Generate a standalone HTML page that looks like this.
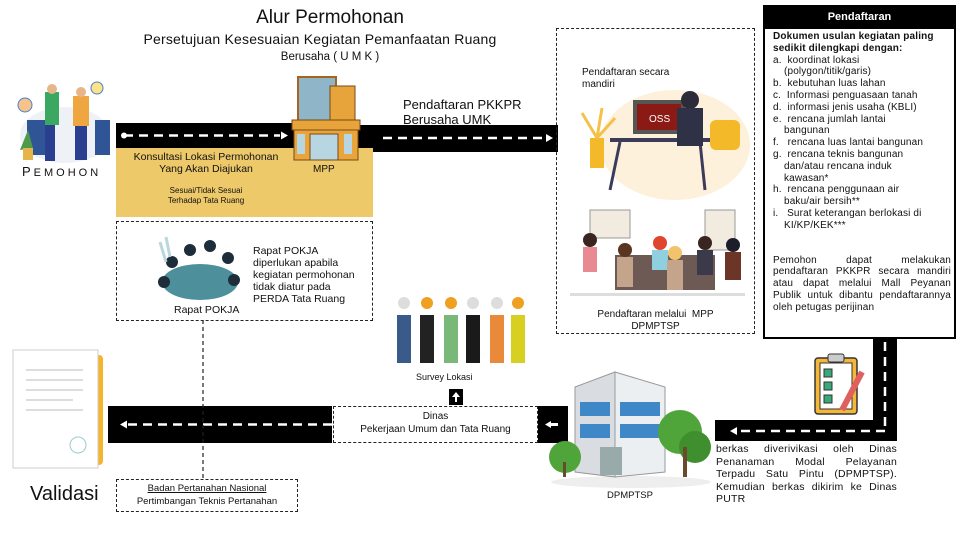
<!DOCTYPE html>
<html><head><meta charset="utf-8"><style>
*{margin:0;padding:0;box-sizing:border-box}
body{width:960px;height:540px;overflow:hidden;background:#fff;font-family:"Liberation Sans",sans-serif;color:#111;position:relative}
.a{position:absolute}
.dash{border:1.3px dashed #222}
.li{padding-left:11px;text-indent:-11px}
</style></head><body>

<div class="a" style="left:230px;top:7px;width:200px;text-align:center;font-size:19px">Alur Permohonan</div>
<div class="a" style="left:120px;top:31px;width:400px;text-align:center;font-size:14px;letter-spacing:0.2px">Persetujuan Kesesuaian Kegiatan Pemanfaatan Ruang</div>
<div class="a" style="left:230px;top:51px;width:200px;text-align:center;font-size:11.5px">Berusaha ( U M K )</div>

<svg class="a" style="left:15px;top:80px" width="100" height="85">
<ellipse cx="50" cy="55" rx="45" ry="28" fill="#eef1f6"/>
<rect x="12" y="40" width="18" height="35" fill="#2f5597"/>
<rect x="80" y="40" width="15" height="35" fill="#2f5597"/>
<rect x="30" y="12" width="14" height="33" fill="#3aa861"/>
<rect x="30" y="45" width="10" height="36" fill="#2a3f8f"/>
<rect x="58" y="16" width="16" height="30" fill="#f0a640"/>
<rect x="60" y="46" width="12" height="34" fill="#2a3f8f"/>
<circle cx="37" cy="9" r="5" fill="#e8b48a"/><circle cx="66" cy="12" r="5" fill="#e8b48a"/>
<circle cx="10" cy="25" r="7" fill="#f6c48a" stroke="#4a7fd0"/><circle cx="82" cy="8" r="6" fill="#fbe38a" stroke="#4a7fd0"/>
<path d="M5 70 l8 -20 l5 18z" fill="#4f9a4a"/><rect x="8" y="68" width="10" height="12" fill="#e6b54a"/>
</svg>
<div class="a" style="left:22px;top:164px;font-size:11px;letter-spacing:3px"><span style="font-size:13px">P</span>EMOHON</div>

<svg class="a" style="left:0;top:0" width="960" height="540">
<rect x="116" y="123" width="190" height="25" fill="#000"/>
<rect x="340" y="125" width="218" height="27" fill="#000"/>
<circle cx="124" cy="135.5" r="3" fill="#fff"/>
<line x1="124" y1="135.5" x2="280" y2="135.5" stroke="#fff" stroke-width="2.5" stroke-dasharray="9,6"/>
<polygon points="281,131.5 288,135.5 281,139.5" fill="#fff"/>
<line x1="383" y1="138" x2="545" y2="138" stroke="#fff" stroke-width="2.5" stroke-dasharray="9,6"/>
<polygon points="546,134 553,138 546,142" fill="#fff"/>
<rect x="873" y="338" width="24" height="103" fill="#000"/>
<rect x="715" y="420" width="182" height="21" fill="#000"/>
<line x1="885" y1="342" x2="885" y2="431" stroke="#fff" stroke-width="2.5" stroke-dasharray="9,6"/>
<line x1="885" y1="431" x2="735" y2="431" stroke="#fff" stroke-width="2.5" stroke-dasharray="9,6"/>
<polygon points="730,431 737,427 737,435" fill="#fff"/>
<rect x="108" y="406" width="224" height="37" fill="#000"/>
<rect x="537" y="406" width="31" height="37" fill="#000"/>
<line x1="128" y1="424.5" x2="332" y2="424.5" stroke="#fff" stroke-width="2.5" stroke-dasharray="9,6"/>
<polygon points="120,424.5 127,420.5 127,428.5" fill="#fff"/>
<polygon points="545,424.5 551,421 551,428" fill="#fff"/><rect x="550" y="423" width="8" height="3" fill="#fff"/>
<rect x="449" y="389" width="14" height="16" fill="#000"/>
<polygon points="456,392 460,397 452,397" fill="#fff"/><rect x="455" y="396" width="2" height="6" fill="#fff"/>
<line x1="203" y1="320" x2="203" y2="479" stroke="#222" stroke-width="1.2" stroke-dasharray="4,3"/>
</svg>

<div class="a" style="left:116px;top:148px;width:257px;height:69px;background:#edc96a"></div>
<div class="a" style="left:116px;top:151px;width:180px;text-align:center;font-size:10.5px;line-height:12px">Konsultasi Lokasi Permohonan<br>Yang Akan Diajukan</div>
<div class="a" style="left:116px;top:186px;width:180px;text-align:center;font-size:8px;line-height:10px">Sesuai/Tidak Sesuai<br>Terhadap Tata Ruang</div>

<svg class="a" style="left:290px;top:72px" width="72" height="90">
<rect x="8" y="5" width="38" height="45" fill="#8fb5c8" stroke="#a5651f" stroke-width="2"/>
<rect x="40" y="14" width="25" height="40" fill="#e7a43a" stroke="#7a4a15"/>
<rect x="2" y="48" width="68" height="10" fill="#e7a43a" stroke="#7a4a15"/>
<rect x="4" y="58" width="64" height="30" fill="#e9a53b" stroke="#7a4a15"/>
<rect x="20" y="62" width="28" height="26" fill="#b7d6e2" stroke="#7a4a15"/>
<rect x="7" y="62" width="8" height="20" fill="#b7d6e2"/><rect x="54" y="62" width="8" height="20" fill="#b7d6e2"/>
</svg>
<div class="a" style="left:313px;top:164px;font-size:10px">MPP</div>

<div class="a" style="left:403px;top:97px;font-size:13px;line-height:15px">Pendaftaran PKKPR<br>Berusaha UMK</div>

<div class="a dash" style="left:116px;top:221px;width:257px;height:100px"></div>
<svg class="a" style="left:150px;top:232px" width="95" height="75">
<ellipse cx="50" cy="50" rx="38" ry="18" fill="#4e8f9c"/>
<circle cx="22" cy="30" r="6" fill="#1e2d3a"/><circle cx="40" cy="18" r="6" fill="#1e2d3a"/><circle cx="60" cy="14" r="6" fill="#1e2d3a"/><circle cx="78" cy="26" r="6" fill="#1e2d3a"/><circle cx="84" cy="48" r="6" fill="#1e2d3a"/><circle cx="14" cy="50" r="6" fill="#1e2d3a"/>
<path d="M10 10 l6 20 M16 5 l4 20" stroke="#b9d8de" stroke-width="3"/>
</svg>
<div class="a" style="left:253px;top:245px;font-size:10.5px;line-height:12px">Rapat POKJA<br>diperlukan apabila<br>kegiatan permohonan<br>tidak diatur pada<br>PERDA Tata Ruang</div>
<div class="a" style="left:174px;top:304px;font-size:10.5px">Rapat POKJA</div>

<div class="a dash" style="left:556px;top:28px;width:199px;height:306px"></div>
<div class="a" style="left:582px;top:67px;font-size:10px;line-height:12px">Pendaftaran secara<br>mandiri</div>
<svg class="a" style="left:565px;top:80px" width="185" height="120">
<ellipse cx="110" cy="65" rx="75" ry="55" fill="#fdf1dc"/>
<rect x="68" y="20" width="52" height="34" fill="#555" /><rect x="72" y="24" width="44" height="26" fill="#8b1a14"/>
<text x="84" y="42" font-size="10" fill="#fff" font-family="Liberation Sans">OSS</text>
<rect x="45" y="58" width="100" height="4" fill="#3c3c5a"/>
<line x1="55" y1="62" x2="45" y2="110" stroke="#3c3c5a" stroke-width="3"/><line x1="135" y1="62" x2="140" y2="110" stroke="#3c3c5a" stroke-width="3"/>
<circle cx="125" cy="20" r="9" fill="#2b2b3a"/><rect x="112" y="28" width="26" height="38" fill="#2f3147"/>
<rect x="145" y="40" width="30" height="30" rx="6" fill="#f4b929"/>
<rect x="25" y="58" width="14" height="30" fill="#f4b929"/><path d="M32 58 l-15 -25 M32 58 l5 -30 M32 58 l18 -20" stroke="#f4c24a" stroke-width="3"/>
</svg>
<svg class="a" style="left:565px;top:205px" width="185" height="100">
<rect x="25" y="5" width="40" height="28" fill="#f2ece0" stroke="#999"/><rect x="140" y="5" width="30" height="40" fill="#f2ece0" stroke="#999"/>
<rect x="50" y="50" width="100" height="35" fill="#6d5a55"/>
<circle cx="25" cy="35" r="7" fill="#3a2620"/><rect x="18" y="42" width="14" height="25" fill="#e98a93"/>
<circle cx="60" cy="45" r="7" fill="#5a3520"/><rect x="52" y="52" width="16" height="30" fill="#c4a48a"/>
<circle cx="95" cy="38" r="7" fill="#e0452d"/><rect x="87" y="45" width="16" height="20" fill="#8fd0e0"/>
<circle cx="110" cy="48" r="7" fill="#f2c36b"/><rect x="102" y="55" width="16" height="30" fill="#c4a48a"/>
<circle cx="140" cy="38" r="7" fill="#3a2620"/><rect x="132" y="45" width="16" height="25" fill="#3a3a4a"/>
<circle cx="168" cy="40" r="7" fill="#1e1e2a"/><rect x="160" y="47" width="16" height="28" fill="#6b3527"/>
<rect x="5" y="88" width="175" height="3" fill="#ddd"/>
</svg>
<div class="a" style="left:556px;top:309px;width:199px;text-align:center;font-size:10px;line-height:12px">Pendaftaran melalui &nbsp;MPP<br>DPMPTSP</div>

<div class="a" style="left:763px;top:5px;width:193px;height:334px;border:2px solid #000"></div>
<div class="a" style="left:763px;top:5px;width:193px;height:24px;background:#000;color:#fff;font-size:11px;text-align:center;line-height:24px;font-weight:bold">Pendaftaran</div>
<div class="a" style="left:773px;top:31px;width:178px;font-size:10px;line-height:11.8px;letter-spacing:0.15px">
<b>Dokumen usulan kegiatan paling sedikit dilengkapi dengan:</b>
<div class="li">a.&nbsp; koordinat lokasi<br>(polygon/titik/garis)</div>
<div class="li">b.&nbsp; kebutuhan luas lahan</div>
<div class="li">c.&nbsp; Informasi penguasaan tanah</div>
<div class="li">d.&nbsp; informasi jenis usaha (KBLI)</div>
<div class="li">e.&nbsp; rencana jumlah lantai<br>bangunan</div>
<div class="li">f.&nbsp;&nbsp; rencana luas lantai bangunan</div>
<div class="li">g.&nbsp; rencana teknis bangunan<br>dan/atau rencana induk<br>kawasan*</div>
<div class="li">h.&nbsp; rencana penggunaan air<br>baku/air bersih**</div>
<div class="li">i.&nbsp;&nbsp; Surat keterangan berlokasi di<br>KI/KP/KEK***</div>
<div style="margin-top:23px;text-align:justify">Pemohon dapat melakukan pendaftaran PKKPR secara mandiri atau dapat melalui Mall Peyanan Publik untuk dibantu pendaftarannya oleh petugas perijinan</div>
</div>

<svg class="a" style="left:812px;top:352px" width="58" height="66">
<rect x="3" y="6" width="42" height="56" rx="3" fill="#f4b73a" stroke="#333" stroke-width="1.5"/>
<rect x="8" y="11" width="32" height="46" fill="#fff" stroke="#333"/>
<rect x="16" y="2" width="16" height="8" rx="2" fill="#ccc" stroke="#333"/>
<rect x="12" y="17" width="8" height="8" fill="#3aa87a" stroke="#333"/><rect x="12" y="30" width="8" height="8" fill="#3aa87a" stroke="#333"/><rect x="12" y="43" width="8" height="8" fill="#3aa87a" stroke="#333"/>
<line x1="50" y1="20" x2="30" y2="58" stroke="#e06060" stroke-width="6"/>
</svg>

<div class="a" style="left:716px;top:443px;width:181px;font-size:10.5px;line-height:12.5px;text-align:justify;letter-spacing:0.2px">berkas diverivikasi oleh Dinas Penanaman Modal Pelayanan Terpadu Satu Pintu (DPMPTSP). Kemudian berkas dikirim ke Dinas PUTR</div>

<svg class="a" style="left:545px;top:362px" width="172" height="128">
<ellipse cx="86" cy="120" rx="80" ry="6" fill="#eee"/>
<polygon points="30,25 70,10 70,115 30,110" fill="#d9dde2" stroke="#999"/>
<polygon points="70,10 120,25 120,110 70,115" fill="#eceff2" stroke="#999"/>
<rect x="35" y="40" width="30" height="14" fill="#3f88c8"/><rect x="75" y="40" width="40" height="14" fill="#3f88c8"/>
<rect x="35" y="62" width="30" height="14" fill="#3f88c8"/><rect x="75" y="62" width="40" height="14" fill="#3f88c8"/>
<rect x="55" y="85" width="22" height="28" fill="#9aa"/>
<circle cx="135" cy="70" r="22" fill="#4fa53a"/><circle cx="150" cy="85" r="16" fill="#3f8f2f"/><rect x="138" y="85" width="4" height="30" fill="#6a4a2a"/>
<circle cx="20" cy="95" r="16" fill="#4fa53a"/><rect x="18" y="100" width="3" height="15" fill="#6a4a2a"/>
</svg>
<div class="a" style="left:607px;top:490px;font-size:9.5px">DPMPTSP</div>

<svg class="a" style="left:392px;top:295px" width="145" height="72">
<g fill="#f0a020"><circle cx="12" cy="8" r="6" fill="#ddd"/><circle cx="35" cy="8" r="6"/><circle cx="59" cy="8" r="6"/><circle cx="81" cy="8" r="6" fill="#ddd"/><circle cx="105" cy="8" r="6" fill="#ddd"/><circle cx="126" cy="8" r="6"/></g>
<rect x="5" y="20" width="14" height="48" fill="#3a5a8a"/><rect x="28" y="20" width="14" height="48" fill="#222"/><rect x="52" y="20" width="14" height="48" fill="#7ab87a"/><rect x="74" y="20" width="14" height="48" fill="#1a1a1a"/><rect x="98" y="20" width="14" height="48" fill="#e88a3a"/><rect x="119" y="20" width="14" height="48" fill="#d8d020"/>
</svg>
<div class="a" style="left:416px;top:372px;font-size:9px">Survey Lokasi</div>

<div class="a dash" style="left:333px;top:406px;width:205px;height:37px;background:#fff"></div>
<div class="a" style="left:333px;top:410px;width:205px;text-align:center;font-size:10px;line-height:13px">Dinas<br>Pekerjaan Umum dan Tata Ruang</div>

<svg class="a" style="left:8px;top:345px" width="100" height="130">
<rect x="45" y="10" width="50" height="110" rx="4" fill="#f5b42a"/>
<rect x="5" y="5" width="85" height="118" fill="#fff" stroke="#ccc"/>
<g stroke="#ddd" stroke-width="2"><line x1="18" y1="25" x2="75" y2="25"/><line x1="18" y1="35" x2="75" y2="35"/><line x1="18" y1="45" x2="75" y2="45"/><line x1="18" y1="55" x2="65" y2="55"/><line x1="18" y1="65" x2="75" y2="65"/></g>
<circle cx="70" cy="100" r="8" fill="none" stroke="#9cc"/>
</svg>
<div class="a" style="left:30px;top:483px;font-size:20px">Validasi</div>

<div class="a dash" style="left:116px;top:479px;width:182px;height:33px;background:#fff"></div>
<div class="a" style="left:116px;top:482px;width:182px;text-align:center;font-size:9.5px;line-height:13px"><u>Badan Pertanahan Nasional</u><br>Pertimbangan Teknis Pertanahan</div>

</body></html>
